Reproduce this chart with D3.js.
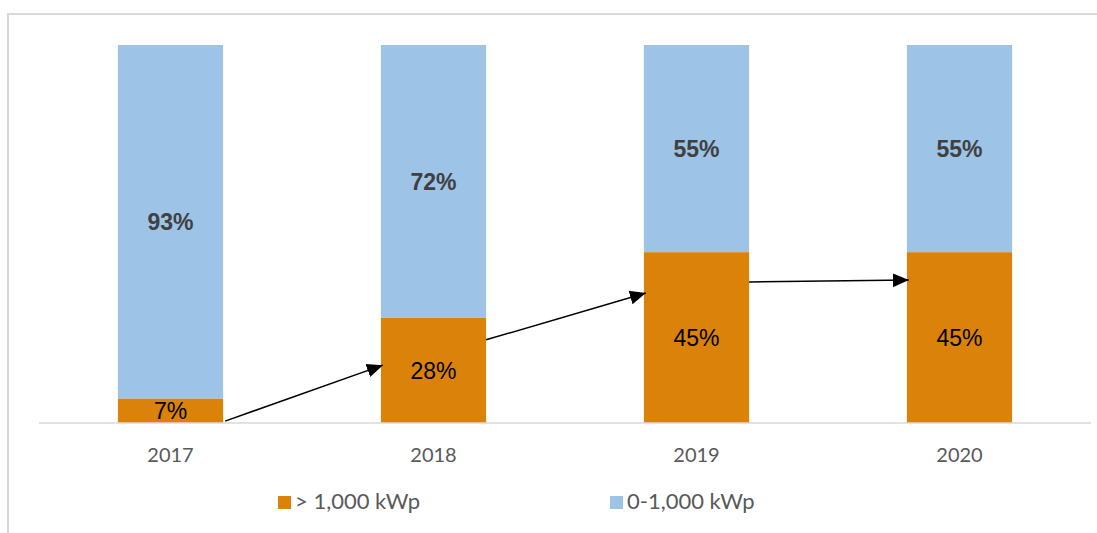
<!DOCTYPE html>
<html lang="en">
<head>
    <meta charset="UTF-8">
    <title>Share by plant size</title>
    <style>
        body {
            margin: 0;
            background-color: #ffffff;
        }
        svg {
            display: block;
        }
    </style>
</head>
<body>
    <div id="chart"></div>

    <script src="https://d3js.org/d3.v7.min.js"></script>
    <script>
        // Data
        const years = ["2017", "2018", "2019", "2020"];
        const largeShare = [6.5, 27.8, 45.2, 45.2];   // > 1,000 kWp
        const smallShare = [93.5, 72.2, 54.8, 54.8];  // 0-1,000 kWp
        const largeLabels = ["7%", "28%", "45%", "45%"];
        const smallLabels = ["93%", "72%", "55%", "55%"];
        const seriesNames = ["> 1,000 kWp", "0-1,000 kWp"];

        // Trend arrows between bars (value at start, value at end)
        const arrowFrom = ["2017", "2018", "2019"];
        const arrowTo = ["2018", "2019", "2020"];
        const arrowStartVal = [0.5, 22, 37.3];
        const arrowEndVal = [15.3, 34.4, 37.8];

        const width = 1097;
        const height = 533;
        const colors = { large: "#DA820A", small: "#9DC3E6" };

        const svg = d3.select("#chart")
            .append("svg")
            .attr("width", width)
            .attr("height", height);

        // Chart frame (only top and left edges are visible)
        svg.append("path")
            .attr("d", "M8,533 L8,14 L1097,14")
            .attr("fill", "none")
            .attr("stroke", "#D9D9D9")
            .attr("stroke-width", 2);

        const x = d3.scaleBand()
            .domain(years)
            .range([39, 1091])
            .paddingInner(0.6)
            .paddingOuter(0.3);

        const y = d3.scaleLinear()
            .domain([0, 100])
            .range([423, 45]);

        const rows = years.map((yr, i) => ({
            year: yr,
            large: largeShare[i],
            small: smallShare[i],
            largeLabel: largeLabels[i],
            smallLabel: smallLabels[i]
        }));

        const stack = d3.stack().keys(["large", "small"]);
        const layers = stack(rows);

        svg.append("g")
            .selectAll("g")
            .data(layers)
            .join("g")
            .attr("fill", d => colors[d.key])
            .selectAll("rect")
            .data(d => d)
            .join("rect")
            .attr("x", d => x(d.data.year))
            .attr("y", d => y(d[1]))
            .attr("width", x.bandwidth())
            .attr("height", d => y(d[0]) - y(d[1]));

        // Axis baseline
        svg.append("line")
            .attr("x1", x.range()[0])
            .attr("x2", x.range()[1])
            .attr("y1", y(0))
            .attr("y2", y(0))
            .attr("stroke", "#D9D9D9")
            .attr("stroke-width", 1.5);

        // Category labels
        const xAxis = svg.append("g")
            .attr("transform", `translate(0,${y(0)})`)
            .call(d3.axisBottom(x).tickSize(0).tickPadding(0));
        xAxis.select(".domain").remove();
        xAxis.selectAll("text")
            .attr("dy", null)
            .attr("y", 39)
            .attr("font-family", "Lato, sans-serif")
            .attr("font-size", 20)
            .attr("fill", "#595959");

        // Segment labels
        layers.forEach(layer => {
            const isSmall = layer.key === "small";
            svg.append("g")
                .selectAll("text")
                .data(layer)
                .join("text")
                .attr("x", d => x(d.data.year) + x.bandwidth() / 2)
                .attr("y", d => (y(d[0]) + y(d[1])) / 2)
                .attr("dy", "0.36em")
                .attr("text-anchor", "middle")
                .attr("font-family", "'Liberation Sans', Arial, sans-serif")
                .attr("font-size", 23)
                .attr("font-weight", isSmall ? "bold" : "normal")
                .attr("fill", isSmall ? "#404040" : "#000000")
                .text(d => isSmall ? d.data.smallLabel : d.data.largeLabel);
        });

        // Arrows
        svg.append("defs")
            .append("marker")
            .attr("id", "arrowhead")
            .attr("markerUnits", "userSpaceOnUse")
            .attr("markerWidth", 16)
            .attr("markerHeight", 16)
            .attr("viewBox", "0 -8 16 16")
            .attr("refX", 16)
            .attr("refY", 0)
            .attr("orient", "auto")
            .append("path")
            .attr("d", "M0,-7 L16,0 L0,7 Z")
            .attr("fill", "#000");

        svg.append("g")
            .selectAll("line")
            .data(arrowFrom.map((f, i) => ({ from: f, to: arrowTo[i], v0: arrowStartVal[i], v1: arrowEndVal[i] })))
            .join("line")
            .attr("x1", d => x(d.from) + x.bandwidth() + (d.from === "2017" ? 2 : 0))
            .attr("y1", d => y(d.v0))
            .attr("x2", d => x(d.to) + 2)
            .attr("y2", d => y(d.v1))
            .attr("stroke", "#000")
            .attr("stroke-width", 1.5)
            .attr("marker-end", "url(#arrowhead)");

        // Legend
        const legendX = [278, 610];
        const legend = svg.append("g")
            .selectAll("g")
            .data(["large", "small"])
            .join("g")
            .attr("transform", (d, i) => `translate(${legendX[i]},496)`);

        legend.append("rect")
            .attr("width", 13)
            .attr("height", 13)
            .attr("fill", d => colors[d]);

        legend.append("text")
            .attr("x", 17)
            .attr("y", 13)
            .attr("font-family", "Lato, sans-serif")
            .attr("font-size", 22)
            .attr("fill", "#595959")
            .text((d, i) => seriesNames[i]);
    </script>
</body>
</html>
